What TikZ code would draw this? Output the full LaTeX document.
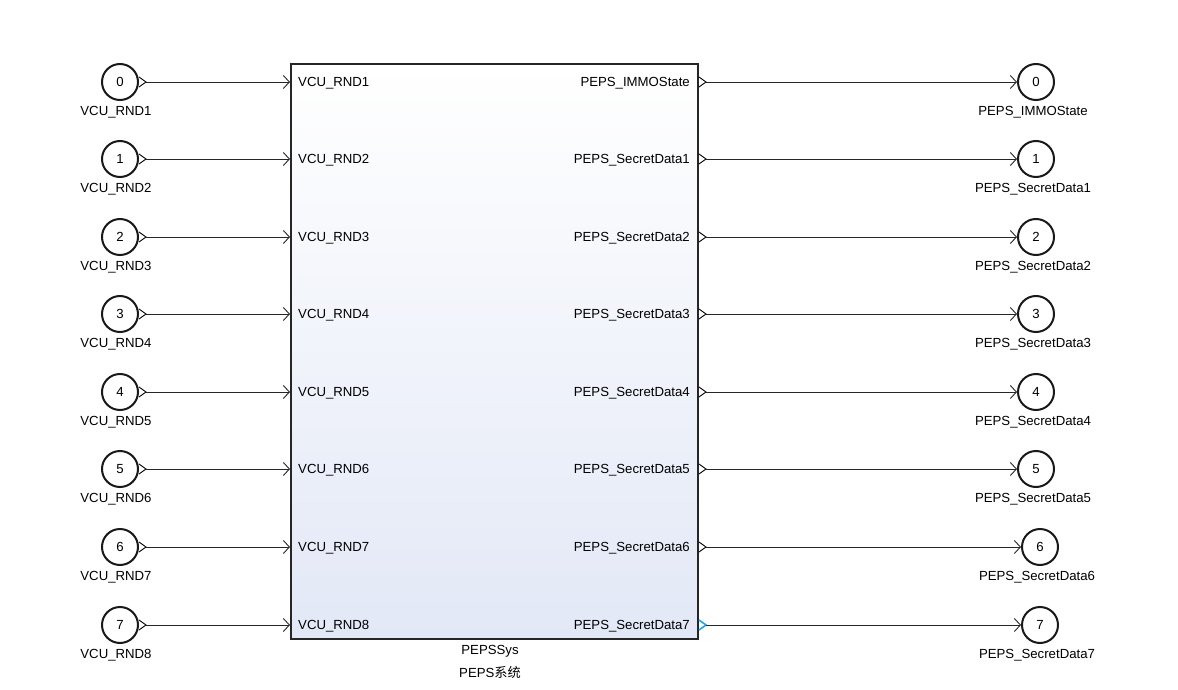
\documentclass[tikz,border=0pt]{standalone}
\usepackage{fontspec}
\setmainfont{Liberation Sans}
\newfontfamily\cjkfont{Noto Sans CJK SC}
\usetikzlibrary{arrows.meta}
\definecolor{blockblue}{RGB}{226,232,246}
\definecolor{portblue}{RGB}{30,165,235}

\begin{document}
\begin{tikzpicture}[x=1pt,y=-1pt,
        every node/.style={font=\fontsize{13.2}{15}\selectfont,inner sep=1pt},
        port/.style={draw=black!90,circle,line width=2pt,minimum size=36pt,inner sep=0pt},
        wire/.style={line width=0.9pt,draw=black!85,-{Straight Barb[length=6pt,width=13pt,line width=0.9pt]}},
        tri/.style={line width=0.9pt}]
    \useasboundingbox (0,0) rectangle (1178,690);
    % subsystem block
    \node[draw=black!85,line width=2pt,top color=white,bottom color=blockblue,
          minimum width=407,minimum height=575,anchor=north west] (sys) at (290,63) {};
    \node (name) at (490,651) {PEPSSys};
    \node (cname) at (490,672) {PEPS{\cjkfont 系统}};
    % inports
    \foreach \i/\n/\yy in {0/1/82,1/2/159,2/3/237,3/4/314,4/5/392,5/6/469,6/7/547,7/8/625}{
        \node[port] (in\i) at (120,\yy) {\i};
        \node (inl\i) at (116,\yy+30) {VCU\_RND\n};
        \draw[tri] ([yshift=5]in\i.east) -- ([xshift=7]in\i.east) -- ([yshift=-5]in\i.east);
        \coordinate (ia\i) at ([xshift=7]in\i.east);
        \coordinate (bi\i) at (sys.west |- in\i);
        \node[anchor=west] (sil\i) at (297,\yy+1.5) {VCU\_RND\n};
        \draw[wire] (ia\i) -- (bi\i);
    }
    % outports
    \foreach \i/\s/\xx/\yy in {0/IMMOState/1036/82,1/SecretData1/1036/159,2/SecretData2/1036/237,
            3/SecretData3/1036/314,4/SecretData4/1036/392,5/SecretData5/1036/469,
            6/SecretData6/1040/547,7/SecretData7/1040/625}{
        \node[port] (out\i) at (\xx,\yy) {\i};
        \node (outl\i) at (\xx-3,\yy+30) {PEPS\_\s};
        \coordinate (bo\i) at (sys.east |- out\i);
        \node[anchor=east] (sol\i) at (691,\yy+1.5) {PEPS\_\s};
        \ifnum\i=7
            \draw[tri,portblue,line width=1.6pt] ([yshift=5]bo\i) -- ([xshift=7]bo\i) -- ([yshift=-5]bo\i);
        \else
            \draw[tri] ([yshift=5]bo\i) -- ([xshift=7]bo\i) -- ([yshift=-5]bo\i);
        \fi
        \coordinate (ob\i) at ([xshift=7]bo\i);
        \draw[wire] (ob\i) -- (out\i.west);
    }
\end{tikzpicture}
\end{document}
